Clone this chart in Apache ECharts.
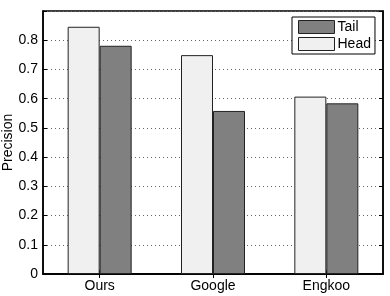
<!DOCTYPE html>
<html><head><meta charset="utf-8">
<script src="https://cdn.jsdelivr.net/npm/echarts@6/dist/echarts.min.js"></script>
<style>html,body{margin:0;padding:0;background:#fff}#c{width:390px;height:296px}</style>
</head><body><div id="c"></div>
<script>
const categories = ['Ours', 'Google', 'Engkoo'];
const headValues = [0.846, 0.749, 0.607];
const tailValues = [0.781, 0.558, 0.584];
const yTicks = [0, 0.1, 0.2, 0.3, 0.4, 0.5, 0.6, 0.7, 0.8];
const yTitle = 'Precision';

const chart = echarts.init(document.getElementById('c'));
const font = 'Liberation Sans, Arial, sans-serif';
chart.setOption({
  animation: false,
  backgroundColor: '#fff',
  textStyle: {fontFamily: font},
  grid: {left: 43, right: 7, top: 11, bottom: 22, show: true, borderColor: '#000', borderWidth: 1.5, containLabel: false, outerBoundsMode: 'none'},
  graphic: [{
    type: 'text', x: 8, y: 142.5, rotation: Math.PI / 2,
    style: {text: yTitle, fontSize: 14, fill: '#000', fontFamily: font, align: 'center', verticalAlign: 'middle'}
  }],
  legend: {
    data: ['Tail', 'Head'], orient: 'vertical', left: 292, top: 17,
    icon: 'rect', itemWidth: 36, itemHeight: 13, itemGap: 3,
    itemStyle: {borderColor: '#222', borderWidth: 1},
    borderColor: '#000', borderWidth: 1, borderRadius: 0, padding: [3, 4, 3, 6], backgroundColor: '#fff',
    textStyle: {fontSize: 14, color: '#000', fontFamily: font, padding: [0, 0, 0, -2]}
  },
  xAxis: [
    {type: 'category', data: categories, position: 'bottom',
     axisLine: {show: true, lineStyle: {color: '#000', width: 1.5}},
     axisTick: {show: true, inside: true, alignWithLabel: true, length: 4, lineStyle: {color: '#000'}},
     axisLabel: {fontSize: 14, color: '#000', margin: 5, fontFamily: font}},
    {type: 'category', data: categories, position: 'top',
     axisLine: {show: true, lineStyle: {color: '#000', width: 1.5}},
     axisTick: {show: true, inside: true, alignWithLabel: true, length: 4, lineStyle: {color: '#000'}},
     axisLabel: {show: false}}
  ],
  yAxis: [
    {type: 'value', min: 0, max: 0.9, interval: 0.1, position: 'left',
     axisLine: {show: true, lineStyle: {color: '#000', width: 1.5}},
     axisTick: {show: true, inside: true, length: 4, lineStyle: {color: '#000'}},
     axisLabel: {fontSize: 14, color: '#000', margin: 5, fontFamily: font,
       formatter: v => { const t = yTicks.find(x => Math.abs(x - v) < 1e-6); return t === undefined ? '' : String(t); }},
     splitLine: {show: true, lineStyle: {color: '#666', type: [1, 3], width: 1}}},
    {type: 'value', min: 0, max: 0.9, interval: 0.1, position: 'right',
     axisLine: {show: true, lineStyle: {color: '#000', width: 1.5}},
     axisTick: {show: true, inside: true, length: 4, lineStyle: {color: '#000'}},
     axisLabel: {show: false}, splitLine: {show: false}}
  ],
  series: [
    {name: 'Head', type: 'bar', data: headValues, barWidth: 32, barGap: '0%',
     itemStyle: {color: '#f0f0f0', borderColor: '#222', borderWidth: 1}},
    {name: 'Tail', type: 'bar', data: tailValues, barWidth: 32, barGap: '0%',
     itemStyle: {color: '#808080', borderColor: '#222', borderWidth: 1}}
  ]
});
</script></body></html>
